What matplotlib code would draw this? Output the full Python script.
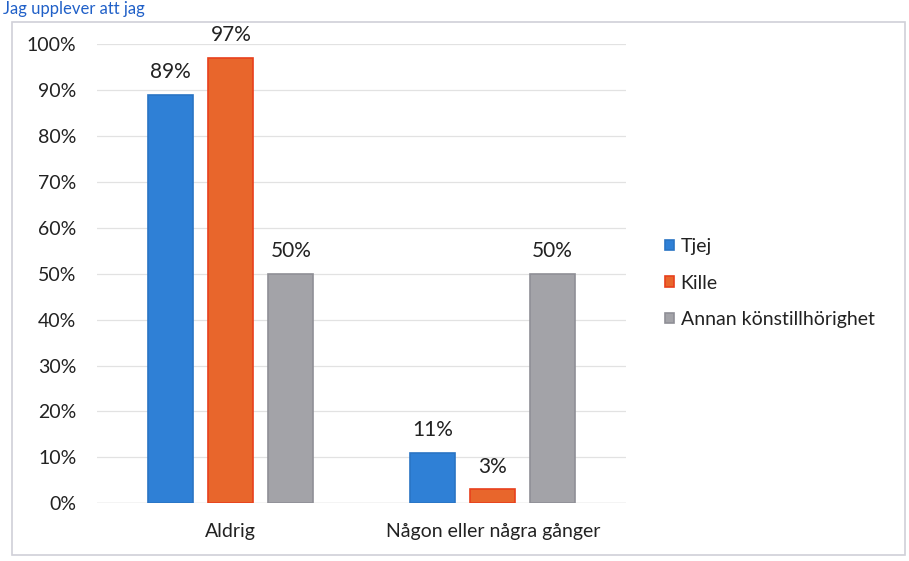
import matplotlib.pyplot as plt
from matplotlib.patches import Rectangle
import numpy as np

plt.rcParams['font.family'] = ['Lato', 'DejaVu Sans']

categories = ["Aldrig", "Någon eller några gånger"]
series = ["Tjej", "Kille", "Annan könstillhörighet"]
tjej = [0.89, 0.11]
kille = [0.97, 0.03]
annan = [0.50, 0.50]
labels = [["89%", "11%"], ["97%", "3%"], ["50%", "50%"]]
yticks = [0, 0.1, 0.2, 0.3, 0.4, 0.5, 0.6, 0.7, 0.8, 0.9, 1.0]

colors = ["#2f80d6", "#e8662c", "#a3a3a8"]
edges = ["#2a74c4", "#e8401c", "#8f8f96"]
text_col = "#222222"

fig = plt.figure(figsize=(9.09, 5.61), dpi=100)
ax = fig.add_axes([0.107, 0.103, 0.582, 0.818])

# outer chart border
fig.patches.append(Rectangle((12 / 909, 6 / 561), 893 / 909, 533 / 561,
                             transform=fig.transFigure, fill=False,
                             edgecolor="#d0d0d8", linewidth=1.2))

# title (mostly cut off in the scan)
fig.text(0.003, 0.999, "Jag upplever att jag", color="#2060c8", fontsize=12,
         ha="left", va="top")

x = np.arange(len(categories))
w = 0.172
off = 0.229
for i, vals in enumerate([tjej, kille, annan]):
    bars = ax.bar(x + (i - 1) * off, vals, width=w, color=colors[i],
                  edgecolor=edges[i], linewidth=1.2, label=series[i], zorder=3)
    for b, lab in zip(bars, labels[i]):
        ax.text(b.get_x() + b.get_width() / 2, b.get_height() + 0.05, lab,
                ha="center", va="center", fontsize=15, color=text_col)

ax.set_xlim(-0.51, 1.51)
ax.set_ylim(0, 1.0)
ax.set_yticks(yticks)
ax.set_yticklabels([f"{int(round(t * 100))}%" for t in yticks], fontsize=14,
                   color=text_col)
ax.set_xticks(x)
ax.set_xticklabels(categories, fontsize=14, color=text_col)
ax.tick_params(axis="x", length=0, pad=14)
ax.tick_params(axis="y", length=0, pad=15)
ax.grid(axis="y", color="#e2e2e2", linewidth=0.9, zorder=0)
for s in ax.spines.values():
    s.set_visible(False)
ax.axhline(0, color="#d8d8d8", linewidth=1, zorder=2)

fig.legend(loc="center left", bbox_to_anchor=(665 / 909, 1 - 283 / 561),
           frameon=False, fontsize=14, handlelength=0.45, handleheight=0.45,
           handletextpad=0.35, labelspacing=1.0, borderpad=0,
           borderaxespad=0, labelcolor=text_col)

fig.savefig("out.png", dpi=100)
